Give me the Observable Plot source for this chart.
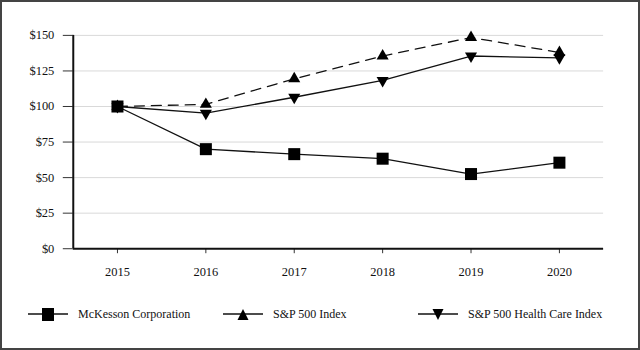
<!DOCTYPE html>
<html>
<head>
<meta charset="utf-8">
<script src="https://cdn.jsdelivr.net/npm/d3@7"></script>
<script src="https://cdn.jsdelivr.net/npm/@observablehq/plot@0.6"></script>
<style>
  html, body { margin: 0; padding: 0; background: #fff; }
  #wrap { position: relative; width: 640px; height: 350px; box-sizing: border-box; border: 2px solid #444; overflow: hidden; font-family: "Liberation Serif"; }
  #chart { position: absolute; left: -2px; top: -2px; }
  #chart svg, #chart svg text { font-family: "Liberation Serif" !important; font-size: 12.5px; }
  .leg { position: absolute; top: 304px; height: 16px; display: flex; align-items: center; font-family: "Liberation Serif"; font-size: 12px; color: #111; }
  .leg svg { margin-right: 10px; }
</style>
</head>
<body>
<div id="wrap"><div id="chart"></div><div id="legend"></div></div>
<script>
const years = [2015, 2016, 2017, 2018, 2019, 2020];
const mckesson = [100, 70, 66.5, 63.3, 52.5, 60.5];
const sp500 = [100, 101.5, 119.5, 135.5, 148.5, 138];
const spHealth = [100, 95.3, 106.5, 118.3, 135.5, 134.2];
const seriesNames = ["McKesson Corporation", "S&P 500 Index", "S&P 500 Health Care Index"];
const yTicks = [0, 25, 50, 75, 100, 125, 150];

const rows = [];
years.forEach((yr, i) => {
  rows.push({year: yr, value: mckesson[i], series: seriesNames[0]});
  rows.push({year: yr, value: sp500[i], series: seriesNames[1]});
  rows.push({year: yr, value: spHealth[i], series: seriesNames[2]});
});
const bySeries = s => rows.filter(d => d.series === s);

const chart = Plot.plot({
  width: 640,
  height: 350,
  marginLeft: 73,
  marginRight: 35,
  marginTop: 35,
  marginBottom: 101,
  style: {fontFamily: "Liberation Serif", fontSize: "12.5px", color: "#111", background: "transparent"},
  x: {domain: [years[0] - 0.5, years[years.length - 1] + 0.5]},
  y: {domain: [0, 150]},
  marks: [
    Plot.gridY(yTicks.filter(d => d > 0), {stroke: "#d9d9d9", strokeOpacity: 1, strokeWidth: 1}),
    Plot.axisY({ticks: yTicks, tickFormat: d => "$" + d, tickSize: 10, tickPadding: 9, label: null, stroke: "#333"}),
    Plot.axisX({ticks: years, tickFormat: d => String(d), tickSize: 5, tickPadding: 13, label: null, stroke: "#333"}),
    Plot.ruleX([years[0] - 0.5], {stroke: "#111", strokeWidth: 2}),
    Plot.ruleY([0], {stroke: "#111", strokeWidth: 2}),
    Plot.line(bySeries(seriesNames[0]), {x: "year", y: "value", stroke: "#111", strokeWidth: 1.3}),
    Plot.line(bySeries(seriesNames[1]), {x: "year", y: "value", stroke: "#111", strokeWidth: 1.3, strokeDasharray: "10,7"}),
    Plot.line(bySeries(seriesNames[2]), {x: "year", y: "value", stroke: "#111", strokeWidth: 1.3}),
    Plot.dot(bySeries(seriesNames[2]), {x: "year", y: "value", symbol: "triangle", r: 4.5, rotate: 180, fill: "#000", stroke: "none"}),
    Plot.dot(bySeries(seriesNames[1]), {x: "year", y: "value", symbol: "triangle", r: 4.5, fill: "#000", stroke: "none"}),
    Plot.dot(bySeries(seriesNames[0]), {x: "year", y: "value", symbol: "square", r: 6.8, fill: "#000", stroke: "none"})
  ]
});
document.getElementById("chart").appendChild(chart);

// Legend
const legendItems = [
  {name: seriesNames[0], left: 26, shape: "square"},
  {name: seriesNames[1], left: 221, shape: "up"},
  {name: seriesNames[2], left: 416, shape: "down"}
];
const legend = document.getElementById("legend");
legendItems.forEach(it => {
  const div = document.createElement("div");
  div.className = "leg";
  div.style.left = it.left + "px";
  let sym;
  if (it.shape === "square") sym = '<rect x="14" y="2" width="12" height="13" fill="#000"/>';
  else if (it.shape === "up") sym = '<path d="M14.5,14 L25.5,14 L20,3 Z" fill="#000"/>';
  else sym = '<path d="M14.5,3 L25.5,3 L20,14 Z" fill="#000"/>';
  div.innerHTML = '<svg width="40" height="17"><line x1="0" x2="40" y1="8" y2="8" stroke="#111" stroke-width="1.6"/>' + sym + '</svg><span>' + it.name + '</span>';
  legend.appendChild(div);
});
</script>
</body>
</html>
